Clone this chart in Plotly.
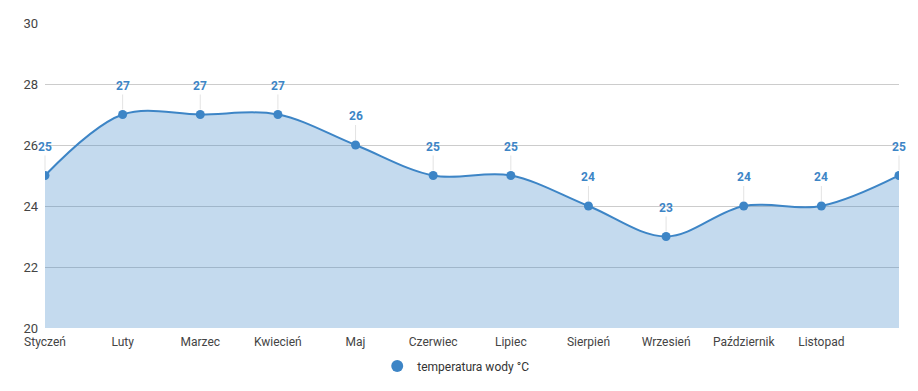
import plotly.graph_objects as go

months = ["Styczeń", "Luty", "Marzec", "Kwiecień", "Maj", "Czerwiec", "Lipiec",
          "Sierpień", "Wrzesień", "Październik", "Listopad", "Grudzień"]
water_temp = [25, 27, 27, 27, 26, 25, 25, 24, 23, 24, 24, 25]
tick_labels = months[:11]
series_name = "temperatura wody °C"

LINE = "#3d85c6"
FONT = "Roboto, Arial, sans-serif"

fig = go.Figure()
fig.add_trace(go.Scatter(
    x=months, y=water_temp, name=series_name,
    mode="lines+markers",
    line=dict(color=LINE, width=2, shape="spline", smoothing=1.0),
    marker=dict(color=LINE, size=9),
    fill="tozeroy", fillcolor="rgba(61,133,198,0.3)",
    showlegend=False,
))
# legend-only entry: a plain circle
fig.add_trace(go.Scatter(
    x=[None], y=[None], name=series_name, mode="markers",
    marker=dict(color=LINE, size=12), showlegend=True,
))

for m, v in zip(months, water_temp):
    fig.add_annotation(
        x=m, y=v, text=f"<b>{v}</b>", showarrow=True,
        ax=0, ay=-20, arrowhead=0, arrowwidth=1, arrowcolor="rgba(225,225,225,0.9)",
        standoff=5, yanchor="bottom",
        font=dict(family=FONT, size=12, color=LINE),
    )

fig.update_layout(
    width=910, height=383,
    margin=dict(l=37, r=19, t=15, b=63, autoexpand=False),
    paper_bgcolor="white", plot_bgcolor="white",
    font=dict(family=FONT, size=12, color="#444"),
    xaxis=dict(
        type="category", range=[0, 11],
        tickmode="array", tickvals=tick_labels, ticktext=tick_labels,
        showgrid=False, zeroline=False, showline=False, ticks="",
        ticklabelstandoff=5,
        tickfont=dict(size=12, color="#444"),
    ),
    yaxis=dict(
        range=[20, 30], dtick=2, showgrid=True, gridcolor="#cccccc", gridwidth=1,
        zeroline=False, showline=False, ticks="", ticklabelstandoff=6,
        tickfont=dict(size=13, color="#444"),
    ),
    legend=dict(
        orientation="h", xref="container", x=0.492, xanchor="center",
        yref="container", y=0.065, yanchor="middle",
        font=dict(size=12, color="#333"),
    ),
)

fig.write_html("out.html")
